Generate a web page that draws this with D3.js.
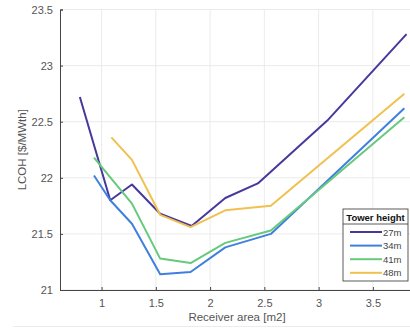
<!DOCTYPE html>
<html>
<head>
<meta charset="utf-8">
<script src="https://cdn.jsdelivr.net/npm/d3@7"></script>
<style>
  body { margin: 0; background: #fff; }
  text { font-family: Arial, "Liberation Sans", sans-serif; }
</style>
</head>
<body>
<div id="wrapper"></div>
<script>
// data
const seriesNames = ["27m", "34m", "41m", "48m"];
const seriesColors = ["#46399c", "#3f80de", "#66c97c", "#f0c14f"];
const area27 = [0.80, 1.08, 1.28, 1.54, 1.83, 2.14, 2.44, 3.08, 3.81];
const lcoh27 = [22.72, 21.80, 21.94, 21.68, 21.57, 21.82, 21.95, 22.51, 23.28];
const area34 = [0.93, 1.08, 1.28, 1.54, 1.82, 2.14, 2.56, 3.79];
const lcoh34 = [22.02, 21.80, 21.59, 21.14, 21.16, 21.38, 21.50, 22.62];
const area41 = [0.93, 1.28, 1.54, 1.82, 2.14, 2.56, 3.79];
const lcoh41 = [22.18, 21.77, 21.28, 21.24, 21.42, 21.53, 22.54];
const area48 = [1.09, 1.28, 1.54, 1.82, 2.14, 2.56, 3.79];
const lcoh48 = [22.36, 22.16, 21.67, 21.56, 21.71, 21.75, 22.75];
const xTicks = [1, 1.5, 2, 2.5, 3, 3.5];
const yTicks = [21, 21.5, 22, 22.5, 23, 23.5];

function drawChart() {
    const dimensions = {
        width: 410,
        height: 329,
        margin: { top: 9.5, right: 0, bottom: 39, left: 60 },
    };
    dimensions.boundedWidth = dimensions.width - dimensions.margin.left - dimensions.margin.right;
    dimensions.boundedHeight = dimensions.height - dimensions.margin.top - dimensions.margin.bottom;

    const series = [
        { name: seriesNames[0], color: seriesColors[0], x: area27, y: lcoh27 },
        { name: seriesNames[1], color: seriesColors[1], x: area34, y: lcoh34 },
        { name: seriesNames[2], color: seriesColors[2], x: area41, y: lcoh41 },
        { name: seriesNames[3], color: seriesColors[3], x: area48, y: lcoh48 },
    ];

    const svg = d3.select("#wrapper").append("svg")
        .attr("width", dimensions.width)
        .attr("height", dimensions.height);

    const bounds = svg.append("g")
        .attr("transform", `translate(${dimensions.margin.left},${dimensions.margin.top})`);

    const xScale = d3.scaleLinear()
        .domain([0.617, 3.842])
        .range([0, dimensions.boundedWidth]);

    const yScale = d3.scaleLinear()
        .domain([21, 23.5])
        .range([dimensions.boundedHeight, 0]);

    // grid
    bounds.append("g").selectAll("line.gx")
        .data(xTicks)
        .join("line")
        .attr("x1", d => xScale(d)).attr("x2", d => xScale(d))
        .attr("y1", 0).attr("y2", dimensions.boundedHeight)
        .attr("stroke", "#ebebeb");

    bounds.append("g").selectAll("line.gy")
        .data(yTicks)
        .join("line")
        .attr("x1", 0).attr("x2", dimensions.boundedWidth)
        .attr("y1", d => yScale(d)).attr("y2", d => yScale(d))
        .attr("stroke", "#ebebeb");

    // axes
    const xAxis = bounds.append("g")
        .attr("transform", `translate(0,${dimensions.boundedHeight})`)
        .call(d3.axisBottom(xScale).tickValues(xTicks).tickSize(-3).tickPadding(9).tickFormat(d3.format("")));
    const yAxis = bounds.append("g")
        .call(d3.axisLeft(yScale).tickValues(yTicks).tickSize(-3).tickPadding(7).tickFormat(d3.format("")));

    [xAxis, yAxis].forEach(a => {
        a.select(".domain").attr("stroke", "#444");
        a.selectAll(".tick line").attr("stroke", "#444");
        a.selectAll(".tick text").attr("fill", "#555").style("font-size", "11px")
            .style("font-family", "Arial, 'Liberation Sans', sans-serif");
    });

    svg.append("text")
        .attr("x", 237)
        .attr("y", 321)
        .attr("text-anchor", "middle")
        .attr("fill", "#555")
        .style("font-size", "11.5px")
        .text("Receiver area [m2]");

    svg.append("text")
        .attr("transform", `translate(26,${dimensions.margin.top + yScale(22.25)}) rotate(-90)`)
        .attr("text-anchor", "middle")
        .attr("fill", "#555")
        .style("font-size", "11.5px")
        .text("LCOH [$/MWth]");

    // faint separator line at the bottom of the picture
    svg.append("line")
        .attr("x1", 13).attr("x2", 410)
        .attr("y1", 326.5).attr("y2", 326.5)
        .attr("stroke", "#ececec");

    // lines
    const lineGen = d3.line()
        .x(d => xScale(d[0]))
        .y(d => yScale(d[1]));

    bounds.selectAll("path.series")
        .data(series)
        .join("path")
        .attr("class", "series")
        .attr("fill", "none")
        .attr("stroke", d => d.color)
        .attr("stroke-width", 2)
        .attr("stroke-linejoin", "round")
        .attr("d", d => lineGen(d.x.map((v, i) => [v, d.y[i]])));

    // legend
    const legend = svg.append("g").attr("transform", "translate(343,209)");
    legend.append("rect")
        .attr("width", 65).attr("height", 72)
        .attr("fill", "#fff").attr("stroke", "#333").attr("stroke-width", 0.8);
    legend.append("line")
        .attr("x1", 0).attr("x2", 65).attr("y1", 15).attr("y2", 15)
        .attr("stroke", "#333").attr("stroke-width", 0.8);
    legend.append("text")
        .attr("x", 32.5).attr("y", 11.5)
        .attr("text-anchor", "middle")
        .attr("fill", "#111")
        .style("font-size", "9.5px")
        .style("font-weight", "bold")
        .text("Tower height");

    const entries = legend.selectAll("g.entry")
        .data(series)
        .join("g")
        .attr("transform", (d, i) => `translate(0,${23 + i * 13.6})`);
    entries.append("line")
        .attr("x1", 7).attr("x2", 39)
        .attr("stroke", d => d.color).attr("stroke-width", 2);
    entries.append("text")
        .attr("x", 40).attr("y", 3.5)
        .attr("fill", "#444")
        .style("font-size", "9.5px")
        .text(d => d.name);
}

drawChart();
</script>
</body>
</html>
